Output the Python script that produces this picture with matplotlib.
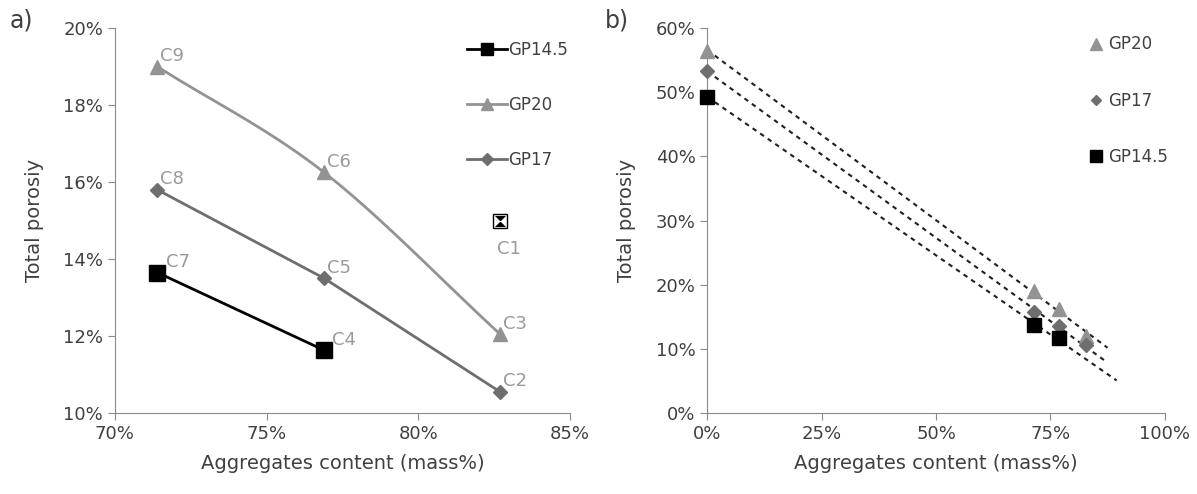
import numpy as np
import matplotlib
matplotlib.use("Agg")
import matplotlib.pyplot as plt
from matplotlib.ticker import FuncFormatter

# data (fractions)
x_gp20 = [0.714, 0.769, 0.827]
y_gp20 = [0.190, 0.1625, 0.1205]
x_gp17 = [0.714, 0.769, 0.827]
y_gp17 = [0.158, 0.135, 0.1055]
x_gp145 = [0.714, 0.769]
y_gp145 = [0.1365, 0.1163]
x_c1 = [0.827]
y_c1 = [0.150]

labels_gp20 = ["C9", "C6", "C3"]
labels_gp17 = ["C8", "C5", "C2"]
labels_gp145 = ["C7", "C4"]

# panel b, binder-only points at 0 % aggregates
y0_gp20 = 0.565
y0_gp17 = 0.533
y0_gp145 = 0.493
# extent of the trendlines
xend_gp20 = 0.875
xend_gp17 = 0.875
xend_gp145 = 0.895

c20 = "#939393"
c17 = "#6e6e6e"
c145 = "#000000"
txt = "#404040"
spine = "#8a8a8a"
lblc = "#9a9a9a"

plt.rcParams['font.family'] = ['DejaVu Sans']


def smooth(xs, ys, n=40):
    # catmull-rom like smoothing (as excel smoothed line)
    xs = np.asarray(xs, float)
    ys = np.asarray(ys, float)
    px = np.concatenate([[2*xs[0]-xs[1]], xs, [2*xs[-1]-xs[-2]]])
    py = np.concatenate([[2*ys[0]-ys[1]], ys, [2*ys[-1]-ys[-2]]])
    ox, oy = [], []
    for i in range(1, len(px)-2):
        t = np.linspace(0, 1, n)
        for p, o in ((px, ox), (py, oy)):
            p0, p1, p2, p3 = p[i-1], p[i], p[i+1], p[i+2]
            o.extend(0.5*((2*p1) + (-p0+p2)*t + (2*p0-5*p1+4*p2-p3)*t**2 + (-p0+3*p1-3*p2+p3)*t**3))
    return ox, oy


def style(ax):
    for s in ["top", "right"]:
        ax.spines[s].set_visible(False)
    for s in ["left", "bottom"]:
        ax.spines[s].set_color(spine)
    ax.tick_params(colors=spine, labelcolor=txt, labelsize=13, length=5, direction="out")


fig = plt.figure(figsize=(11.97, 4.94), dpi=100)
ax1 = fig.add_axes([0.096, 0.164, 0.380, 0.779])
ax2 = fig.add_axes([0.591, 0.164, 0.382, 0.779])

# ---- panel a
sx, sy = smooth(x_gp20, y_gp20)
ax1.plot(sx, sy, color=c20, lw=2, zorder=2)
ax1.plot(x_gp20, y_gp20, ls="none", marker="^", ms=10, color=c20, zorder=3)
ax1.plot(x_gp17, y_gp17, color=c17, lw=2, marker="D", ms=7, zorder=3)
ax1.plot(x_gp145, y_gp145, color=c145, lw=2, marker="s", ms=11, zorder=3)
ax1.plot(x_c1, y_c1, ls="none", marker="s", ms=10, mfc="white", mec="black", mew=1)
ax1.plot(x_c1, y_c1, ls="none", marker=[(-1, 1), (1, 1), (-1, -1), (1, -1), (-1, 1)],
         ms=8, color="black", mew=0)

h145, = ax1.plot([], [], color=c145, lw=2, marker="s", ms=9, label="GP14.5")
h20, = ax1.plot([], [], color=c20, lw=2, marker="^", ms=8, label="GP20")
h17, = ax1.plot([], [], color=c17, lw=2, marker="D", ms=6, label="GP17")
ax1.legend(handles=[h145, h20, h17], loc="upper right", bbox_to_anchor=(1.03, 1.005),
           frameon=False, fontsize=12, labelspacing=2.2, handlelength=2.4,
           handletextpad=0.1, labelcolor=txt)

for x, y, l in zip(x_gp20, y_gp20, labels_gp20):
    ax1.annotate(l, (x, y), xytext=(2, 4), textcoords="offset points", color=lblc, fontsize=13)
for x, y, l in zip(x_gp17, y_gp17, labels_gp17):
    ax1.annotate(l, (x, y), xytext=(2, 4), textcoords="offset points", color=lblc, fontsize=13)
for x, y, l in zip(x_gp145, y_gp145, labels_gp145):
    ax1.annotate(l, (x, y), xytext=(6, 4), textcoords="offset points", color=lblc, fontsize=13)
ax1.annotate("C1", (x_c1[0], y_c1[0]), xytext=(-2, -24), textcoords="offset points",
             color=lblc, fontsize=13)

ax1.set_xlim(0.70, 0.85)
ax1.set_ylim(0.10, 0.20)
ax1.set_xticks([0.70, 0.75, 0.80, 0.85])
ax1.set_yticks(np.arange(0.10, 0.201, 0.02))
ax1.xaxis.set_major_formatter(FuncFormatter(lambda v, p: "{:.0f}%".format(v*100)))
ax1.yaxis.set_major_formatter(FuncFormatter(lambda v, p: "{:.0f}%".format(v*100)))
ax1.set_xlabel("Aggregates content (mass%)", fontsize=14, color=txt, labelpad=8)
ax1.set_ylabel("Total porosiy", fontsize=14, color=txt, labelpad=14)
style(ax1)

# ---- panel b
series = [
    ("GP20", x_gp20, y_gp20, y0_gp20, xend_gp20, c20, "^", 10),
    ("GP17", x_gp17, y_gp17, y0_gp17, xend_gp17, c17, "D", 7),
    ("GP14.5", x_gp145, y_gp145, y0_gp145, xend_gp145, c145, "s", 10),
]
for name, xs, ys, y0, xe, col, mk, ms in series:
    xa = [0.0] + list(xs)
    ya = [y0] + list(ys)
    k, b = np.polyfit(xa, ya, 1)
    xl = np.array([0.0, xe])
    ax2.plot(xl, k*xl + b, ls=(0, (2.2, 2.2)), color="#202020", lw=1.5, zorder=2)
    ax2.plot(xa, ya, ls="none", marker=mk, ms=ms, color=col, label=name, zorder=3, clip_on=False)

ax2.legend(loc="upper right", bbox_to_anchor=(1.04, 1.02), frameon=False, fontsize=12,
           labelspacing=2.3, handlelength=0.8, handletextpad=0.3, labelcolor=txt,
           markerscale=0.8)

ax2.set_xlim(0, 1.0)
ax2.set_ylim(0, 0.60)
ax2.set_xticks([0, 0.25, 0.5, 0.75, 1.0])
ax2.set_yticks(np.arange(0, 0.601, 0.10))
ax2.xaxis.set_major_formatter(FuncFormatter(lambda v, p: "{:.0f}%".format(v*100)))
ax2.yaxis.set_major_formatter(FuncFormatter(lambda v, p: "{:.0f}%".format(v*100)))
ax2.set_xlabel("Aggregates content (mass%)", fontsize=14, color=txt, labelpad=8)
ax2.set_ylabel("Total porosiy", fontsize=14, color=txt, labelpad=14)
style(ax2)

fig.text(0.008, 0.945, "a)", fontsize=17, color=txt)
fig.text(0.505, 0.945, "b)", fontsize=17, color=txt)

fig.savefig("out.png", dpi=100)
